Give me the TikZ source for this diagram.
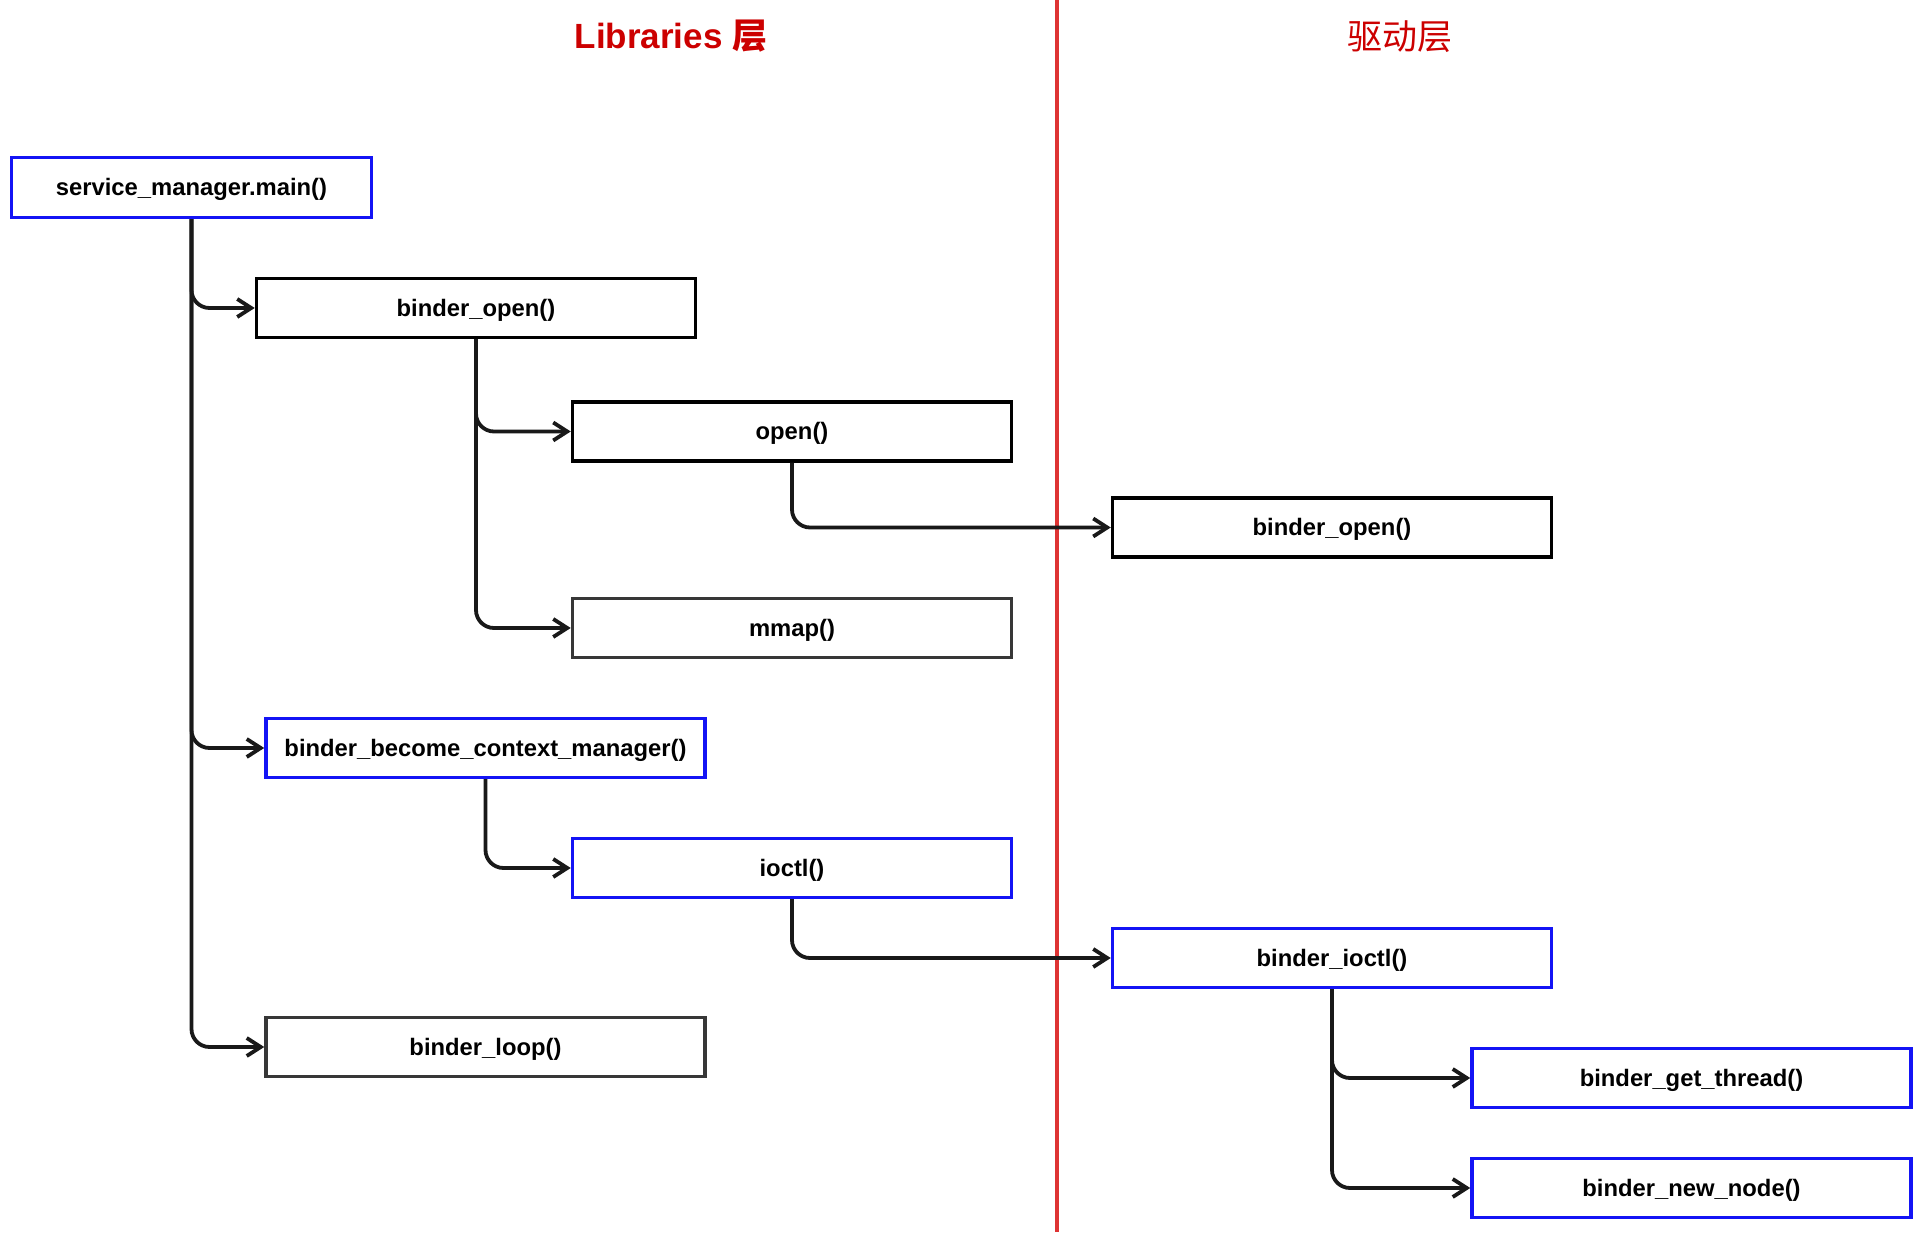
\documentclass[tikz,border=0pt]{standalone}
\usepackage{fontspec}
\setmainfont{Liberation Sans}
\newfontfamily\cjk{Noto Sans CJK SC}
\usetikzlibrary{arrows.meta}
\definecolor{boxblue}{RGB}{20,20,245}
\definecolor{titlered}{RGB}{204,0,0}
\definecolor{linered}{RGB}{222,52,52}
\definecolor{connk}{RGB}{25,25,25}
\definecolor{greyk}{RGB}{55,55,55}
\begin{document}
\begin{tikzpicture}[x=0.5pt,y=-0.5pt,
  fbox/.style={draw=black,line width=1.75pt,minimum width=219.5pt,minimum height=29.5pt,
    inner sep=0pt,text height=10pt,text depth=1.5pt,
    font=\fontsize{11.9}{14}\selectfont\bfseries,fill=white},
  bluebox/.style={fbox,draw=boxblue},
  greybox/.style={fbox,draw=greyk},
  conn/.style={draw=connk,line width=1.9pt,rounded corners=9pt,
    -{Straight Barb[length=7pt,width=9pt,line width=1.9pt]}},
  ttl/.style={text=titlered,font=\fontsize{17.5}{20}\selectfont}
]
\useasboundingbox (0,0) rectangle (1924,1234);
\fill[white] (0,0) rectangle (1924,1234);
% layer divider
\draw[linered,line width=1.75pt] (1057,0) -- (1057,1232);
% titles
\node[ttl] (tlib) at (671,36) {\bfseries Libraries {\cjk\bfseries 层}};
\node[ttl] (tdrv) at (1400,37) {\cjk 驱动层};
% boxes
\node[bluebox,minimum width=180pt,minimum height=30pt] (main) at (191.5,187.5) {service\_manager.main()};
\node[fbox] (bopen) at (476,308) {binder\_open()};
\node[fbox] (open) at (792,431.5) {open()};
\node[greybox] (mmap) at (792,628) {mmap()};
\node[fbox] (dopen) at (1332,527.5) {binder\_open()};
\node[bluebox] (become) at (485.5,748) {binder\_become\_context\_manager()};
\node[bluebox] (ioctl) at (792,868) {ioctl()};
\node[bluebox] (bioctl) at (1332,958) {binder\_ioctl()};
\node[greybox] (loop) at (485.5,1047) {binder\_loop()};
\node[bluebox] (thread) at (1691.5,1078) {binder\_get\_thread()};
\node[bluebox] (newnode) at (1691.5,1188) {binder\_new\_node()};
% connectors
\draw[conn] (main.south) |- (bopen.west);
\draw[conn] (main.south) |- (become.west);
\draw[conn] (main.south) |- (loop.west);
\draw[conn] (bopen.south) |- (open.west);
\draw[conn] (bopen.south) |- (mmap.west);
\draw[conn] (open.south) |- (dopen.west);
\draw[conn] (become.south) |- (ioctl.west);
\draw[conn] (ioctl.south) |- (bioctl.west);
\draw[conn] (bioctl.south) |- (thread.west);
\draw[conn] (bioctl.south) |- (newnode.west);
\end{tikzpicture}
\end{document}
